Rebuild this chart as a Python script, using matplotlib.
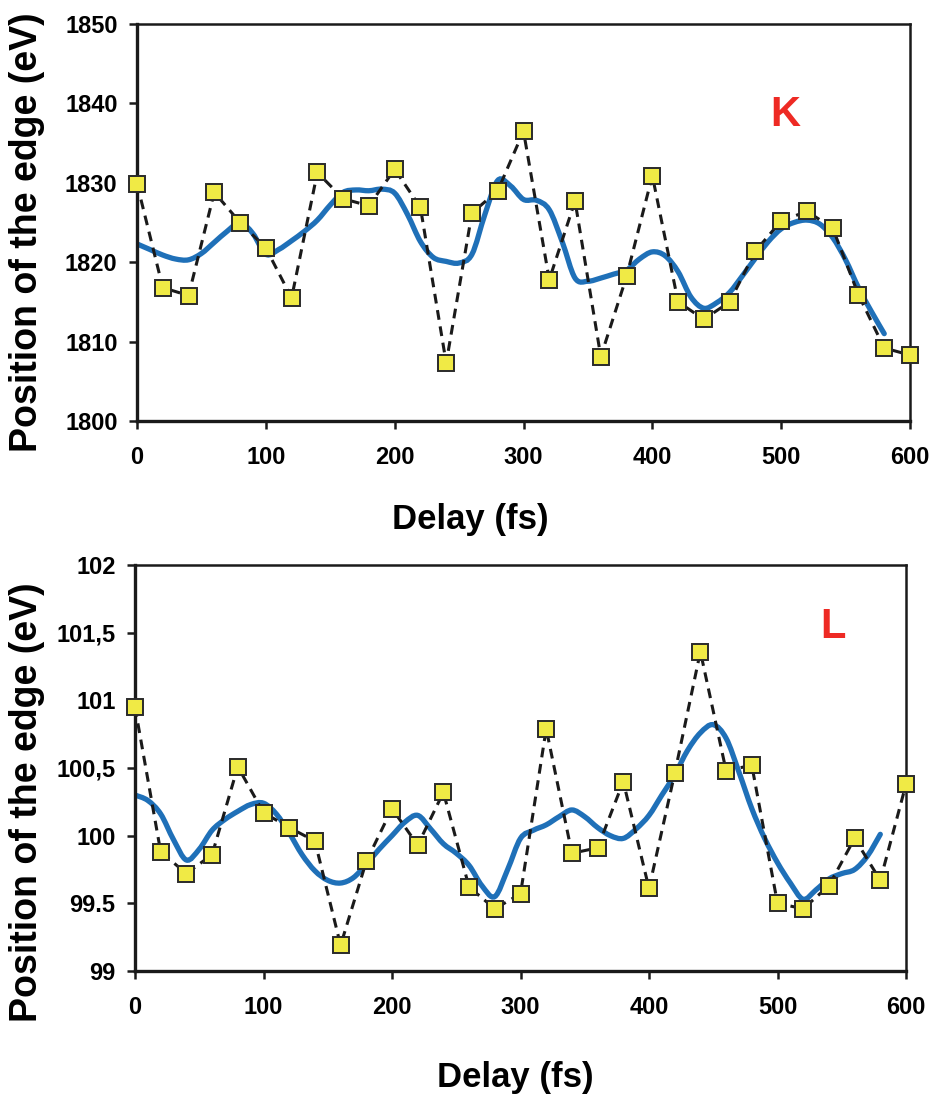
import numpy as np
import matplotlib
matplotlib.use("Agg")
import matplotlib.pyplot as plt
from matplotlib.path import Path
from matplotlib.patches import PathPatch

plt.rcParams["font.family"] = ["Liberation Sans", "DejaVu Sans"]
plt.rcParams["font.weight"] = "bold"

# Measured edge positions vs pump-probe delay
delay = [0, 20, 40, 60, 80, 100, 120, 140, 160, 180, 200, 220, 240, 260, 280, 300,
         320, 340, 360, 380, 400, 420, 440, 460, 480, 500, 520, 540, 560, 580, 600]

k_edge = [1829.9, 1816.8, 1815.8, 1828.8, 1825.0, 1821.8, 1815.5, 1831.3, 1828.0, 1827.1,
          1831.7, 1826.9, 1807.3, 1826.2, 1829.0, 1836.5, 1817.8, 1827.7, 1808.1, 1818.2,
          1830.9, 1815.0, 1812.8, 1815.0, 1821.4, 1825.2, 1826.4, 1824.3, 1815.9, 1809.2,
          1808.3]

l_edge = [100.95, 99.88, 99.72, 99.86, 100.51, 100.17, 100.06, 99.96, 99.19, 99.81,
          100.20, 99.93, 100.32, 99.62, 99.46, 99.57, 100.79, 99.87, 99.91, 100.40,
          99.61, 100.46, 101.36, 100.48, 100.52, 99.50, 99.46, 99.63, 99.98, 99.67,
          100.38]

# Smoothed trend curves, sampled every 10 fs
fit_delay = [0, 10, 20, 30, 40, 50, 60, 70, 80, 90, 100, 110, 120, 130, 140, 150, 160,
             170, 180, 190, 200, 210, 220, 230, 240, 250, 260, 270, 280, 290, 300, 310,
             320, 330, 340, 350, 360, 370, 380, 390, 400, 410, 420, 430, 440, 450, 460,
             470, 480, 490, 500, 510, 520, 530, 540, 550, 560, 570, 580]

k_fit = [1822.3, 1821.6, 1820.9, 1820.4, 1820.3, 1821.1, 1822.5, 1823.9, 1825.0, 1823.6,
         1821.0, 1821.6, 1822.7, 1823.9, 1825.3, 1827.2, 1828.8, 1829.1, 1829.0, 1829.2,
         1828.7, 1826.0, 1822.6, 1820.6, 1820.1, 1819.9, 1821.0, 1826.0, 1830.3, 1829.6,
         1827.9, 1827.8, 1826.6, 1822.6, 1818.0, 1817.6, 1818.0, 1818.5, 1819.0, 1820.4,
         1821.3, 1820.8, 1818.8, 1815.6, 1814.2, 1814.9, 1816.2, 1818.3, 1820.5, 1822.6,
         1824.2, 1825.0, 1825.3, 1824.8, 1823.1, 1820.3, 1816.8, 1813.8, 1811.0]

l_fit = [100.30, 100.26, 100.16, 99.97, 99.82, 99.90, 100.04, 100.12, 100.18, 100.23,
         100.24, 100.16, 100.02, 99.86, 99.74, 99.67, 99.65, 99.69, 99.79, 99.90,
         100.00, 100.10, 100.15, 100.05, 99.94, 99.87, 99.78, 99.63, 99.55, 99.75,
         99.98, 100.04, 100.08, 100.14, 100.19, 100.14, 100.06, 100.00, 99.98, 100.05,
         100.15, 100.30, 100.45, 100.63, 100.76, 100.82, 100.72, 100.47, 100.20, 99.98,
         99.80, 99.65, 99.53, 99.60, 99.68, 99.72, 99.75, 99.85, 100.01]

x_ticks = [0, 100, 200, 300, 400, 500, 600]
k_ticks = [1800, 1810, 1820, 1830, 1840, 1850]
l_ticks = [99, 99.5, 100, 100.5, 101, 101.5, 102]
l_tick_labels = ["99", "99.5", "100", "100,5", "101", "101,5", "102"]

BLUE = "#1f70b8"
YELLOW = "#f0ea45"
RED = "#ee2a24"


def smooth_path(xs, ys):
    """Catmull-Rom spline through the points, expressed as cubic Bezier segments."""
    pts = np.column_stack([xs, ys]).astype(float)
    ext = np.vstack([pts[0], pts, pts[-1]])
    verts = [pts[0]]
    codes = [Path.MOVETO]
    for i in range(1, len(ext) - 2):
        p0, p1, p2, p3 = ext[i - 1], ext[i], ext[i + 1], ext[i + 2]
        c1 = p1 + (p2 - p0) / 6.0
        c2 = p2 - (p3 - p1) / 6.0
        verts += [c1, c2, p2]
        codes += [Path.CURVE4] * 3
    return Path(verts, codes)


def draw_panel(ax, values, fit, ylim, yticks, ytick_labels, tag, tag_xy):
    ax.add_patch(PathPatch(smooth_path(fit_delay, fit), facecolor="none",
                           edgecolor=BLUE, lw=3.8, capstyle="round", zorder=2))
    ax.plot(delay, values, color="#1a1a1a", lw=2.2, linestyle=(0, (3.2, 2.2)), zorder=3)
    ax.plot(delay, values, linestyle="none", marker="s", markersize=11.5,
            markerfacecolor=YELLOW, markeredgecolor="#2a2a2a", markeredgewidth=1.4,
            zorder=4, clip_on=False)
    ax.set_xlim(0, 600)
    ax.set_ylim(*ylim)
    ax.set_xticks(x_ticks)
    ax.set_xticklabels([str(t) for t in x_ticks])
    ax.set_yticks(yticks)
    ax.set_yticklabels(ytick_labels)
    for side in ("left", "bottom"):
        ax.spines[side].set_linewidth(2.4)
    for side in ("top", "right"):
        ax.spines[side].set_linewidth(1.8)
    for s in ax.spines.values():
        s.set_color("#1a1a1a")
    ax.tick_params(axis="both", direction="out", length=6, width=1.8,
                   labelsize=17, colors="#1a1a1a")
    ax.tick_params(axis="x", pad=12)
    ax.tick_params(axis="y", pad=8)
    for lab in ax.get_xticklabels() + ax.get_yticklabels():
        lab.set_fontweight("bold")
        lab.set_color("black")
    ax.text(tag_xy[0], tag_xy[1], tag, color=RED, fontsize=30, fontweight="bold",
            ha="center", va="center")


W, H = 933, 1096
fig = plt.figure(figsize=(W / 100, H / 100), dpi=100)

ax1 = fig.add_axes([137 / W, 1 - 421 / H, 773 / W, 397 / H])
draw_panel(ax1, k_edge, k_fit, (1800, 1850), k_ticks, [str(t) for t in k_ticks],
           "K", (503, 1838.5))

ax2 = fig.add_axes([135 / W, 1 - 971 / H, 771 / W, 406 / H])
draw_panel(ax2, l_edge, l_fit, (99, 102), l_ticks, l_tick_labels, "L", (543, 101.54))

# Axis titles
fig.text(27 / W, 1 - 232 / H, "Position of the edge (eV)", rotation=90, fontsize=27,
         fontweight="bold", ha="center", va="center")
fig.text(27 / W, 1 - 802 / H, "Position of the edge (eV)", rotation=90, fontsize=27,
         fontweight="bold", ha="center", va="center")
fig.text(470 / W, 1 - 520 / H, "Delay (fs)", fontsize=25, fontweight="bold",
         ha="center", va="center")
fig.text(515 / W, 1 - 1077 / H, "Delay (fs)", fontsize=25, fontweight="bold",
         ha="center", va="center")

fig.savefig("out.png", dpi=100, facecolor="white")
